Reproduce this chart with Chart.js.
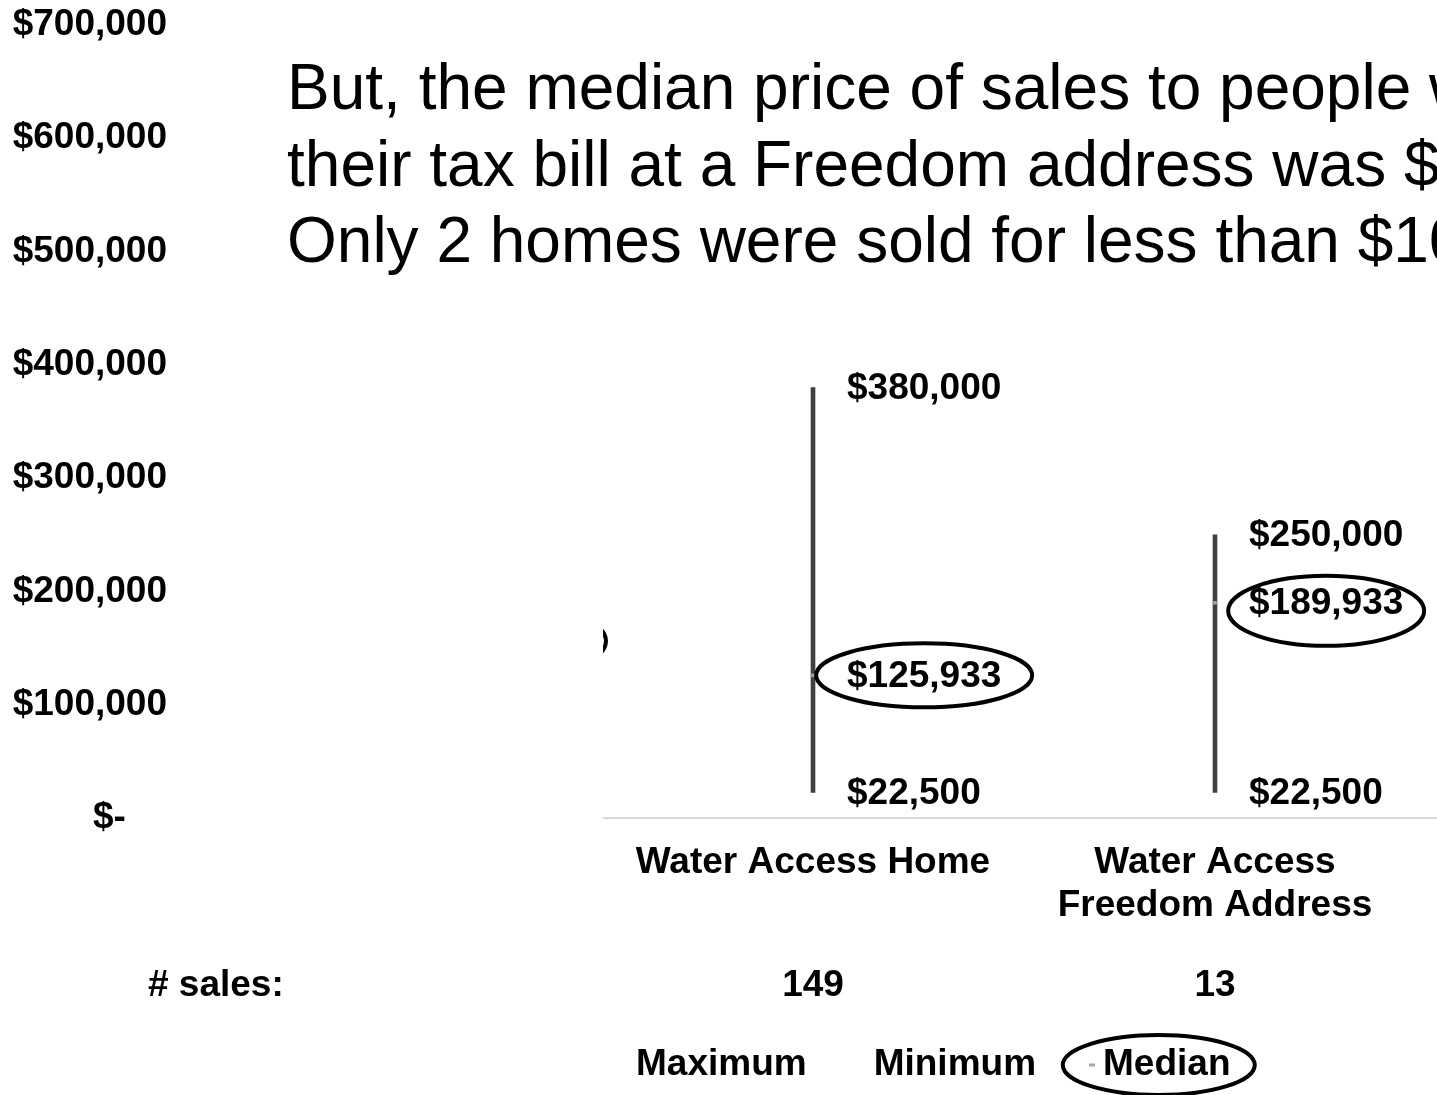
<!DOCTYPE html>
<html>
<head>
<meta charset="utf-8">
<script src="https://cdn.jsdelivr.net/npm/chart.js@4.4.1/dist/chart.umd.min.js"></script>
<style>
  html, body { margin: 0; padding: 0; background: #fff; overflow: hidden; }
  canvas { display: block; }
</style>
</head>
<body>
<canvas id="chart" width="1818" height="1095"></canvas>
<script>
// first and last categories are cropped out of the slide
const categories = ["", "Water Access Home", ["Water Access", "Freedom Address"], ""];
const maxPrice = [null, 380000, 250000, null];
const minPrice = [null, 22500, 22500, null];
const medianPrice = [null, 125933, 189933, null];
const salesCount = [null, 149, 13, null];
const yTicks = [0, 100000, 200000, 300000, 400000, 500000, 600000, 700000];

const titleLines = [
  "But, the median price of sales to people who",
  "their tax bill at a Freedom address was $189,933.",
  "Only 2 homes were sold for less than $100,000.",
];

const FONT = "'Liberation Sans', Arial, sans-serif";
const BOLD = "bold 37px " + FONT;
Chart.defaults.font.family = FONT;
Chart.defaults.color = "#000";

const fmt = v => v === 0 ? "$-" : "$" + v.toLocaleString("en-US");

// hand-drawn ellipses around median labels (rx, ry, dy)
const ring = [null, { rx: 108, ry: 32, dy: 0 }, { rx: 98, ry: 35, dy: 8 }, null];

const overlay = {
  id: "overlay",
  afterDatasetsDraw(chart) {
    const { ctx, scales: { x, y } } = chart;
    ctx.save();
    ctx.font = BOLD;
    ctx.fillStyle = "#000";
    ctx.textAlign = "left";
    ctx.textBaseline = "middle";
    categories.forEach((c, i) => {
      if (maxPrice[i] == null) return;
      const px = x.getPixelForValue(i) + 34;
      [maxPrice[i], minPrice[i], medianPrice[i]].forEach(v => {
        ctx.fillText(fmt(v), px, y.getPixelForValue(v) + 1);
      });
      const w = ctx.measureText(fmt(medianPrice[i])).width;
      const r = ring[i];
      ctx.beginPath();
      ctx.ellipse(px + w / 2, y.getPixelForValue(medianPrice[i]) + r.dy, r.rx, r.ry, 0, 0, Math.PI * 2);
      ctx.lineWidth = 4;
      ctx.strokeStyle = "#000";
      ctx.stroke();
    });
    ctx.restore();
  },
  afterDraw(chart) {
    const { ctx, scales: { x } } = chart;
    ctx.save();
    // leftover edge of a ring from the cropped first category
    ctx.beginPath();
    ctx.ellipse(508, 641, 98, 36, 0, 0, Math.PI * 2);
    ctx.lineWidth = 4;
    ctx.strokeStyle = "#000";
    ctx.stroke();
    // white box hiding the cropped first category
    ctx.fillStyle = "#fff";
    ctx.fillRect(180, 560, 423, 275);

    // title text
    ctx.fillStyle = "#000";
    ctx.font = "64px " + FONT;
    ctx.textAlign = "left";
    ctx.textBaseline = "alphabetic";
    titleLines.forEach((t, i) => ctx.fillText(t, 287, 109 + i * 76.5));

    // # sales row
    ctx.font = BOLD;
    ctx.textBaseline = "middle";
    ctx.fillText("# sales:", 148, 986);
    ctx.textAlign = "center";
    salesCount.forEach((n, i) => {
      if (n == null) return;
      ctx.fillText(String(n), x.getPixelForValue(i), 986);
    });

    // legend
    ctx.textAlign = "left";
    const ly = 1065, keyW = 22, gap = 45;
    let lx = 614;
    chart.data.datasets.forEach(ds => {
      if (!ds.legend) return;
      const tw = ctx.measureText(ds.label).width;
      if (ds.pointRadius > 0) {
        ctx.fillStyle = ds.backgroundColor;
        ctx.fillRect(lx + keyW / 2 - 3, ly - 1.5, 6, 3);
        ctx.beginPath();
        ctx.ellipse((lx + lx + keyW + tw) / 2 + 3, ly, 96, 30, 0, 0, Math.PI * 2);
        ctx.lineWidth = 4;
        ctx.strokeStyle = "#000";
        ctx.stroke();
      }
      ctx.fillStyle = "#000";
      ctx.fillText(ds.label, lx + keyW, ly);
      lx += keyW + tw + gap;
    });
    ctx.restore();
  },
};

new Chart(document.getElementById("chart"), {
  type: "bar",
  data: {
    labels: categories,
    datasets: [
      {
        type: "bar", label: "Range",
        data: maxPrice.map((v, i) => v == null ? null : [minPrice[i], v]),
        backgroundColor: "#404040", barThickness: 4, order: 2,
      },
      { type: "line", label: "Maximum", legend: true, data: maxPrice, showLine: false, pointRadius: 0, order: 1 },
      { type: "line", label: "Minimum", legend: true, data: minPrice, showLine: false, pointRadius: 0, order: 1 },
      {
        type: "line", label: "Median", legend: true, data: medianPrice, showLine: false,
        pointStyle: "rect", pointRadius: 2.5, backgroundColor: "#a6a6a6", borderWidth: 0, order: 0,
      },
    ],
  },
  options: {
    responsive: false,
    animation: false,
    devicePixelRatio: 1,
    layout: { autoPadding: false, padding: { left: 13, top: 25, right: 0, bottom: 168 } },
    plugins: { legend: { display: false }, tooltip: { enabled: false } },
    scales: {
      x: {
        grid: { display: false, drawTicks: false },
        border: { color: "#d9d9d9", width: 2 },
        ticks: {
          font: { size: 37, weight: "bold", lineHeight: 1.15 },
          color: "#000", padding: 24, maxRotation: 0, autoSkip: false,
        },
        afterFit: axis => { axis.height = 109; },
      },
      y: {
        min: 0, max: 700000,
        grid: { display: false, drawTicks: false },
        border: { display: false },
        afterBuildTicks: axis => { axis.ticks = yTicks.map(v => ({ value: v })); },
        ticks: {
          font: { size: 37, weight: "bold" },
          color: "#000", padding: 43,
          callback: v => v === 0 ? fmt(v) + "\u00a0\u00a0\u00a0\u00a0" : fmt(v),
        },
        afterFit: axis => {
          axis.width = 197;
          axis.paddingTop = 0;
          axis.paddingBottom = 0;
        },
      },
    },
  },
  plugins: [overlay],
});
</script>
</body>
</html>
